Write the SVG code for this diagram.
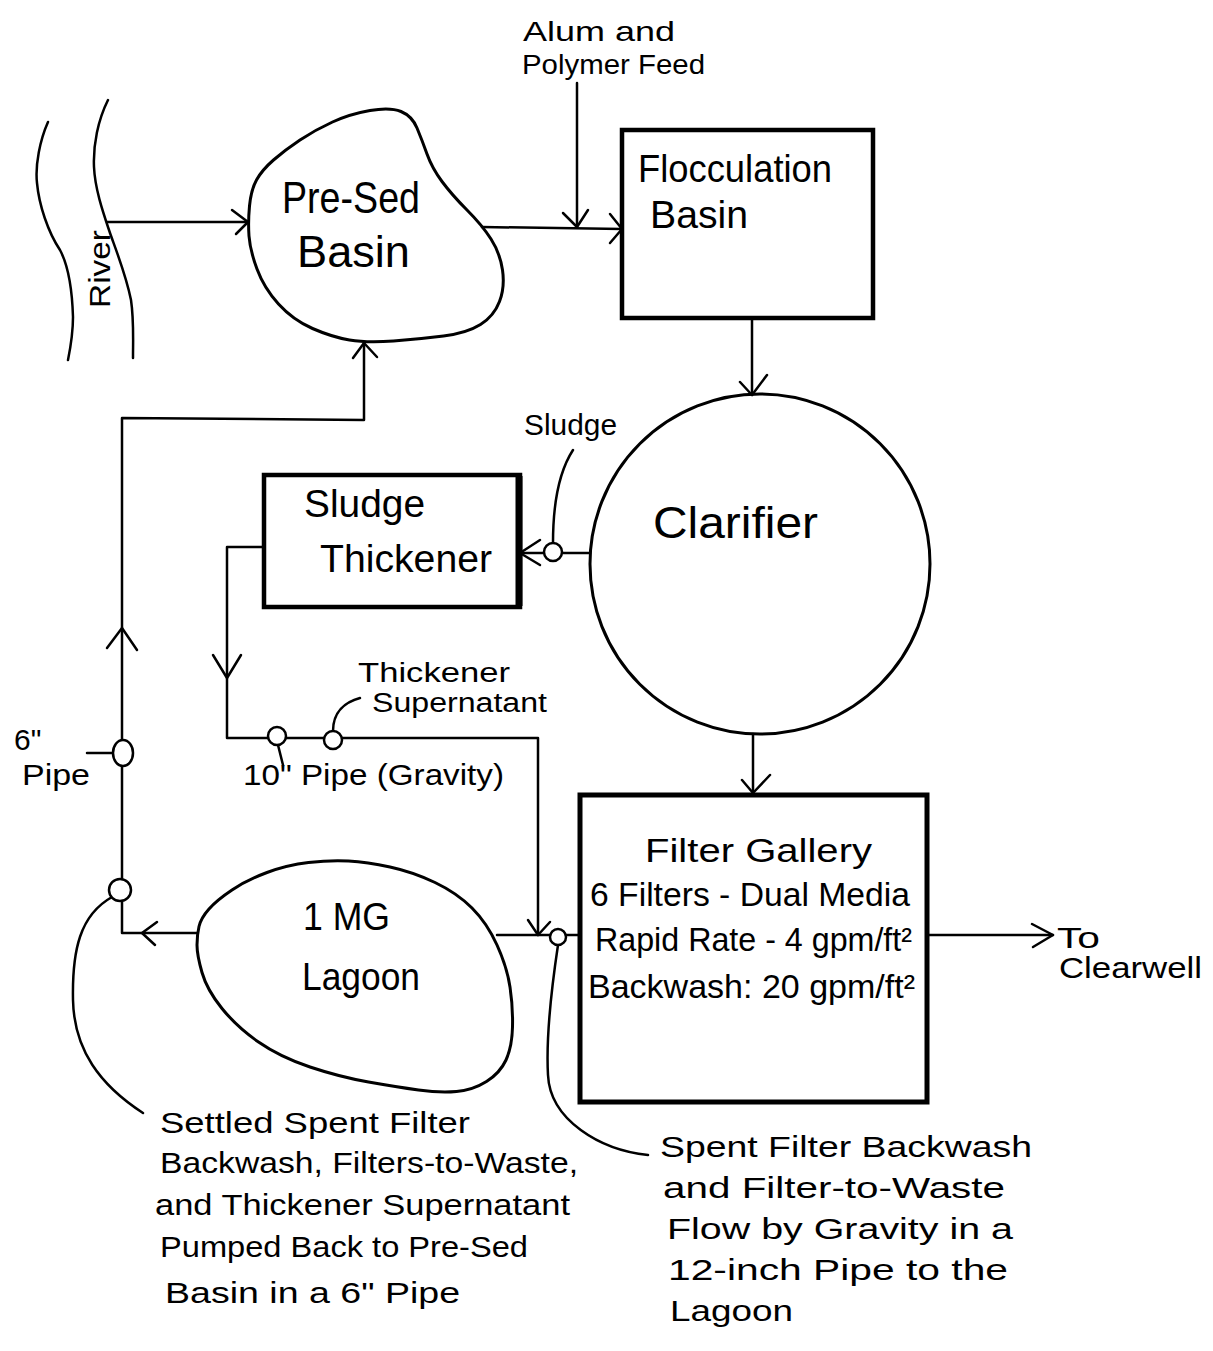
<svg xmlns="http://www.w3.org/2000/svg" width="1213" height="1351" viewBox="0 0 1213 1351">
<style>
  .ln { fill: none; stroke: #000; stroke-width: 2.5; stroke-linecap: round; stroke-linejoin: round; }
  .ar { fill: none; stroke: #000; stroke-width: 2.5; stroke-linecap: round; stroke-linejoin: round; }
  .blob { fill: none; stroke: #000; stroke-width: 3; }
  .box { fill: none; stroke: #000; stroke-width: 4.5; }
  .valve { fill: #fff; stroke: #000; stroke-width: 2.5; }
  text { font-family: "Liberation Sans", Arial, sans-serif; fill: #000; }
  .big { font-size: 44px; }
  .mid { font-size: 38px; }
  .fl { font-size: 33px; }
  .lab { font-size: 30px; }
  .sm { font-size: 27px; }
  .feed { font-size: 28px; }
</style>
<rect width="1213" height="1351" fill="#fff"/>

<g id="river">
  <path class="ln" d="M48,122 C40,140 35,165 37,183 C39,205 48,232 60,250 C68,265 72,285 73,317 C73,335 70,350 68,360"/>
  <path class="ln" d="M108,100 C98,120 93,145 94,167 C95,190 104,215 110,233 C116,250 126,275 131,300 C134,320 133,340 133,358"/>
  <text class="lab" transform="translate(110,308) rotate(-90)" textLength="78" lengthAdjust="spacingAndGlyphs">River</text>
</g>

<g id="pre-sed-basin">
  <path class="blob" d="M249,236 Q248,222 249.5,206 Q251,190 256.5,180 Q262,170 273.5,160 Q285,150 300,140 Q315,130 332.5,122 Q350,114 370,110.5 Q390,107 401,111.5 Q412,116 417,128 Q422,140 427,154 Q432,168 442,181.5 Q452,195 467,210 Q482,225 491,239 Q500,253 502.5,270 Q505,287 499.5,301.5 Q494,316 480.5,324.5 Q467,333 443.5,336 Q420,339 393.5,341 Q367,343 349.5,340 Q332,337 312.5,328.5 Q293,320 278.5,304 Q264,288 257,269 Q250,250 249,236 Z"/>
  <text class="big" x="282" y="213" textLength="138" lengthAdjust="spacingAndGlyphs">Pre-Sed</text>
  <text class="big" x="297" y="267" textLength="113" lengthAdjust="spacingAndGlyphs">Basin</text>
</g>

<g id="alum-feed">
  <text class="feed" x="523" y="41" textLength="152" lengthAdjust="spacingAndGlyphs">Alum and</text>
  <text class="feed" x="522" y="74" textLength="183" lengthAdjust="spacingAndGlyphs">Polymer Feed</text>
</g>

<g id="flocculation-basin">
  <rect class="box" x="622" y="130" width="251" height="188"/>
  <text class="mid" x="638" y="182" textLength="194" lengthAdjust="spacingAndGlyphs">Flocculation</text>
  <text class="mid" x="650" y="228" textLength="98" lengthAdjust="spacingAndGlyphs">Basin</text>
</g>

<g id="clarifier">
  <circle class="blob" cx="760" cy="564" r="170"/>
  <text class="big" x="653" y="538" textLength="165" lengthAdjust="spacingAndGlyphs">Clarifier</text>
</g>

<g id="sludge-thickener">
  <rect class="box" x="264" y="475" width="256" height="132"/>
  <path d="M519,476 V606" stroke="#000" stroke-width="7" fill="none"/>
  <text class="mid" x="304" y="517" textLength="121" lengthAdjust="spacingAndGlyphs">Sludge</text>
  <text class="mid" x="320" y="572" textLength="172" lengthAdjust="spacingAndGlyphs">Thickener</text>
</g>

<g id="filter-gallery">
  <rect class="box" x="580" y="795" width="347" height="307" style="stroke-width:5"/>
  <text class="fl" x="645" y="862" textLength="227" lengthAdjust="spacingAndGlyphs">Filter Gallery</text>
  <text class="fl" x="590" y="906" textLength="320" lengthAdjust="spacingAndGlyphs">6 Filters - Dual Media</text>
  <text class="fl" x="595" y="951" textLength="317" lengthAdjust="spacingAndGlyphs">Rapid Rate - 4 gpm/ft²</text>
  <text class="fl" x="588" y="998" textLength="327" lengthAdjust="spacingAndGlyphs">Backwash: 20 gpm/ft²</text>
</g>

<g id="lagoon">
  <path class="blob" d="M197,945 Q197,935 199,926.5 Q201,918 209,909 Q217,900 232,890 Q247,880 267,872.5 Q287,865 308.5,862.5 Q330,860 348.5,861 Q367,862 390,867 Q413,872 435,882.5 Q457,893 472,908 Q487,923 497,945 Q507,967 510,987 Q513,1007 512.5,1027 Q512,1047 506,1060 Q500,1073 486.5,1081.5 Q473,1090 456.5,1091.5 Q440,1093 418.5,1090 Q397,1087 368.5,1082 Q340,1077 310,1067 Q280,1057 258.5,1042 Q237,1027 222,1008.5 Q207,990 202,972.5 Q197,955 197,945 Z"/>
  <text class="mid" x="303" y="930" textLength="87" lengthAdjust="spacingAndGlyphs">1 MG</text>
  <text class="mid" x="302" y="990" textLength="118" lengthAdjust="spacingAndGlyphs">Lagoon</text>
</g>

<g id="clearwell">
  <text class="lab" x="1057" y="948" textLength="43" lengthAdjust="spacingAndGlyphs">To</text>
  <text class="lab" x="1059" y="978" textLength="143" lengthAdjust="spacingAndGlyphs">Clearwell</text>
</g>

<g id="connectors">
  <path class="ln" d="M107,222 H248"/>
  <path class="ar" d="M232,210 L248,222 L236,234"/>
  <path class="ln" d="M482,227 L622,229"/>
  <path class="ln" d="M577,83 V227"/>
  <path class="ar" d="M563,213 L577,227 L588,210"/>
  <path class="ar" d="M610,214 L622,229 L610,243"/>
  <path class="ln" d="M752,318 V395"/>
  <path class="ar" d="M740,382 L752,395 L767,375"/>
  <path class="ln" d="M753,734 V793"/>
  <path class="ar" d="M742,780 L753,793 L770,775"/>
  <path class="ln" d="M590,553 H520"/>
  <path class="ar" d="M540,540 L520,553 L540,565"/>
  <path class="ln" d="M264,547 H227 V738 L538,738 V935"/>
  <path class="ar" d="M213,655 L227,678 L241,655"/>
  <path class="ar" d="M528,920 L538,935 L550,922"/>
  <path class="ln" d="M580,935 H497"/>
  <path class="ln" d="M197,933 H122 V418 L364,420 V343"/>
  <path class="ar" d="M157,922 L142,933 L155,945"/>
  <path class="ar" d="M107,648 L122,628 L137,650"/>
  <path class="ar" d="M353,358 L364,343 L377,357"/>
  <path class="ln" d="M927,935 H1053"/>
  <path class="ar" d="M1032,924 L1053,935 L1033,947"/>
</g>

<g id="annotations">
  <path class="ln" d="M553,543 C553,500 560,470 573,450"/>
  <circle class="valve" cx="553" cy="552" r="9"/>
  <text class="lab" x="524" y="435" textLength="93" lengthAdjust="spacingAndGlyphs">Sludge</text>

  <path class="ln" d="M333,731 C333,712 345,702 360,698"/>
  <circle class="valve" cx="333" cy="740" r="9"/>
  <text class="sm" x="358" y="682" textLength="152" lengthAdjust="spacingAndGlyphs">Thickener</text>
  <text class="sm" x="372" y="712" textLength="175" lengthAdjust="spacingAndGlyphs">Supernatant</text>

  <path class="ln" d="M278,745 L283,765"/>
  <circle class="valve" cx="277" cy="736" r="9"/>
  <text class="lab" x="243" y="785" textLength="261" lengthAdjust="spacingAndGlyphs">10" Pipe (Gravity)</text>

  <path class="ln" d="M87,753 H113"/>
  <ellipse class="valve" cx="123" cy="753" rx="10" ry="13"/>
  <text class="lab" x="14" y="750">6"</text>
  <text class="lab" x="22" y="785" textLength="68" lengthAdjust="spacingAndGlyphs">Pipe</text>

  <path class="ln" d="M112,897 C80,915 72,950 73,1000 C74,1050 100,1085 143,1113"/>
  <circle class="valve" cx="120" cy="890" r="11"/>
  <text class="lab" x="160" y="1133" textLength="310" lengthAdjust="spacingAndGlyphs">Settled Spent Filter</text>
  <text class="lab" x="160" y="1173" textLength="418" lengthAdjust="spacingAndGlyphs">Backwash, Filters-to-Waste,</text>
  <text class="lab" x="155" y="1215" textLength="415" lengthAdjust="spacingAndGlyphs">and Thickener Supernatant</text>
  <text class="lab" x="160" y="1257" textLength="368" lengthAdjust="spacingAndGlyphs">Pumped Back to Pre-Sed</text>
  <text class="lab" x="165" y="1303" textLength="295" lengthAdjust="spacingAndGlyphs">Basin in a 6" Pipe</text>

  <path class="ln" d="M558,945 C552,985 546,1040 548,1075 C550,1120 600,1150 648,1155"/>
  <circle class="valve" cx="558" cy="937" r="8"/>
  <text class="lab" x="660" y="1157" textLength="372" lengthAdjust="spacingAndGlyphs">Spent Filter Backwash</text>
  <text class="lab" x="663" y="1198" textLength="342" lengthAdjust="spacingAndGlyphs">and Filter-to-Waste</text>
  <text class="lab" x="667" y="1239" textLength="346" lengthAdjust="spacingAndGlyphs">Flow by Gravity in a</text>
  <text class="lab" x="668" y="1280" textLength="340" lengthAdjust="spacingAndGlyphs">12-inch Pipe to the</text>
  <text class="lab" x="670" y="1321" textLength="123" lengthAdjust="spacingAndGlyphs">Lagoon</text>
</g>
</svg>
